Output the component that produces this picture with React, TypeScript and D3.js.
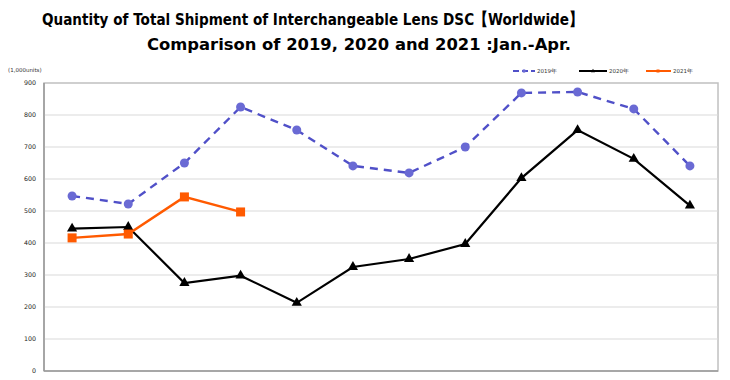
import React from "react";
import * as d3 from "d3";

const months = ["Jan", "Feb", "Mar", "Apr", "May", "Jun", "Jul", "Aug", "Sep", "Oct", "Nov", "Dec"];
const values2019 = [547, 522, 650, 825, 753, 641, 619, 700, 869, 872, 819, 641];
const values2020 = [445, 450, 275, 298, 213, 325, 350, 397, 603, 753, 663, 517];
const values2021 = [416, 428, 544, 497];
const yTicks = [0, 100, 200, 300, 400, 500, 600, 700, 800, 900];
const titleLines = [
  "Quantity of Total Shipment of Interchangeable Lens DSC【Worldwide】",
  "Comparison of 2019, 2020 and 2021 :Jan.-Apr.",
];
const legendLabels = ["2019年", "2020年", "2021年"];

const W = 730;
const H = 380;
const left = 44;
const right = 718;
const top = 83;
const bottom = 371;

const C2019 = "#5050c8";
const C2019m = "#6a6ad4";
const C2020 = "#000000";
const C2021 = "#ff5a00";

export default function App() {
  const x = d3.scaleBand<string>().domain(months).range([left, right]);
  const y = d3.scaleLinear().domain([0, 900]).range([bottom, top]);
  const cx = (i: number) => (x(months[i]) as number) + x.bandwidth() / 2;
  const line = d3
    .line<number>()
    .x((_, i) => cx(i))
    .y((d) => y(d));
  const tri = d3.symbol().type(d3.symbolTriangle).size(45)();
  const font = "'DejaVu Sans', Verdana, sans-serif";

  return (
    <svg
      width={W}
      height={H}
      style={{ position: "absolute", left: 0, top: 0, background: "#fff" }}
      fontFamily={font}
    >
      <rect width={W} height={H} fill="#fff" />
      <text x={42} y={25} fontSize={16.5} fontWeight="bold" fill="#000" textLength={541} lengthAdjust="spacingAndGlyphs">
        {titleLines[0]}
      </text>
      <text x={147} y={50} fontSize={16.5} fontWeight="bold" fill="#000" textLength={424} lengthAdjust="spacingAndGlyphs">
        {titleLines[1]}
      </text>

      {/* frame */}
      <rect x={left} y={top} width={right - left} height={bottom - top} fill="none" stroke="#c0c0c0" strokeWidth={1.5} />
      {yTicks.map((t) => (
        <g key={t}>
          {t > 0 && t < 900 && (
            <line x1={left} x2={right} y1={y(t)} y2={y(t)} stroke="#d9d9d9" strokeWidth={1.2} />
          )}
          <text x={36} y={y(t) + 2.2} fontSize={6.3} textAnchor="end" fill="#222">
            {t}
          </text>
        </g>
      ))}
      <line x1={left} x2={left} y1={top} y2={bottom} stroke="#8a8a8a" strokeWidth={1.2} />
      <line x1={left} x2={right} y1={bottom} y2={bottom} stroke="#9a9a9a" strokeWidth={1.5} />
      <text x={8} y={72} fontSize={5.5} fill="#333">
        (1,000units)
      </text>

      {/* legend */}
      <g fontSize={5.5} fill="#333">
        <line x1={513} x2={535} y1={71} y2={71} stroke={C2019} strokeWidth={2} strokeDasharray="6,3" />
        <circle cx={524} cy={71} r={1.8} fill={C2019m} />
        <text x={537} y={73}>{legendLabels[0]}</text>
        <line x1={579} x2={607} y1={71} y2={71} stroke={C2020} strokeWidth={2} />
        <path d={tri} transform="translate(593,71) scale(0.4)" fill={C2020} />
        <text x={609} y={73}>{legendLabels[1]}</text>
        <line x1={646} x2={671} y1={71} y2={71} stroke={C2021} strokeWidth={2} />
        <rect x={656.5} y={69.5} width={3} height={3} fill={C2021} />
        <text x={673} y={73}>{legendLabels[2]}</text>
      </g>

      {/* 2019 */}
      <path d={line(values2019) || ""} fill="none" stroke={C2019} strokeWidth={2.4} strokeDasharray="8,6" />
      {values2019.map((v, i) => (
        <circle key={i} cx={cx(i)} cy={y(v)} r={4.5} fill={C2019m} />
      ))}

      {/* 2020 */}
      <path d={line(values2020) || ""} fill="none" stroke={C2020} strokeWidth={2.2} />
      {values2020.map((v, i) => (
        <path key={i} d={tri} transform={`translate(${cx(i)},${y(v)})`} fill={C2020} />
      ))}

      {/* 2021 */}
      <path d={line(values2021) || ""} fill="none" stroke={C2021} strokeWidth={2.4} />
      {values2021.map((v, i) => (
        <rect key={i} x={cx(i) - 4.5} y={y(v) - 4.5} width={9} height={9} fill={C2021} />
      ))}
    </svg>
  );
}
